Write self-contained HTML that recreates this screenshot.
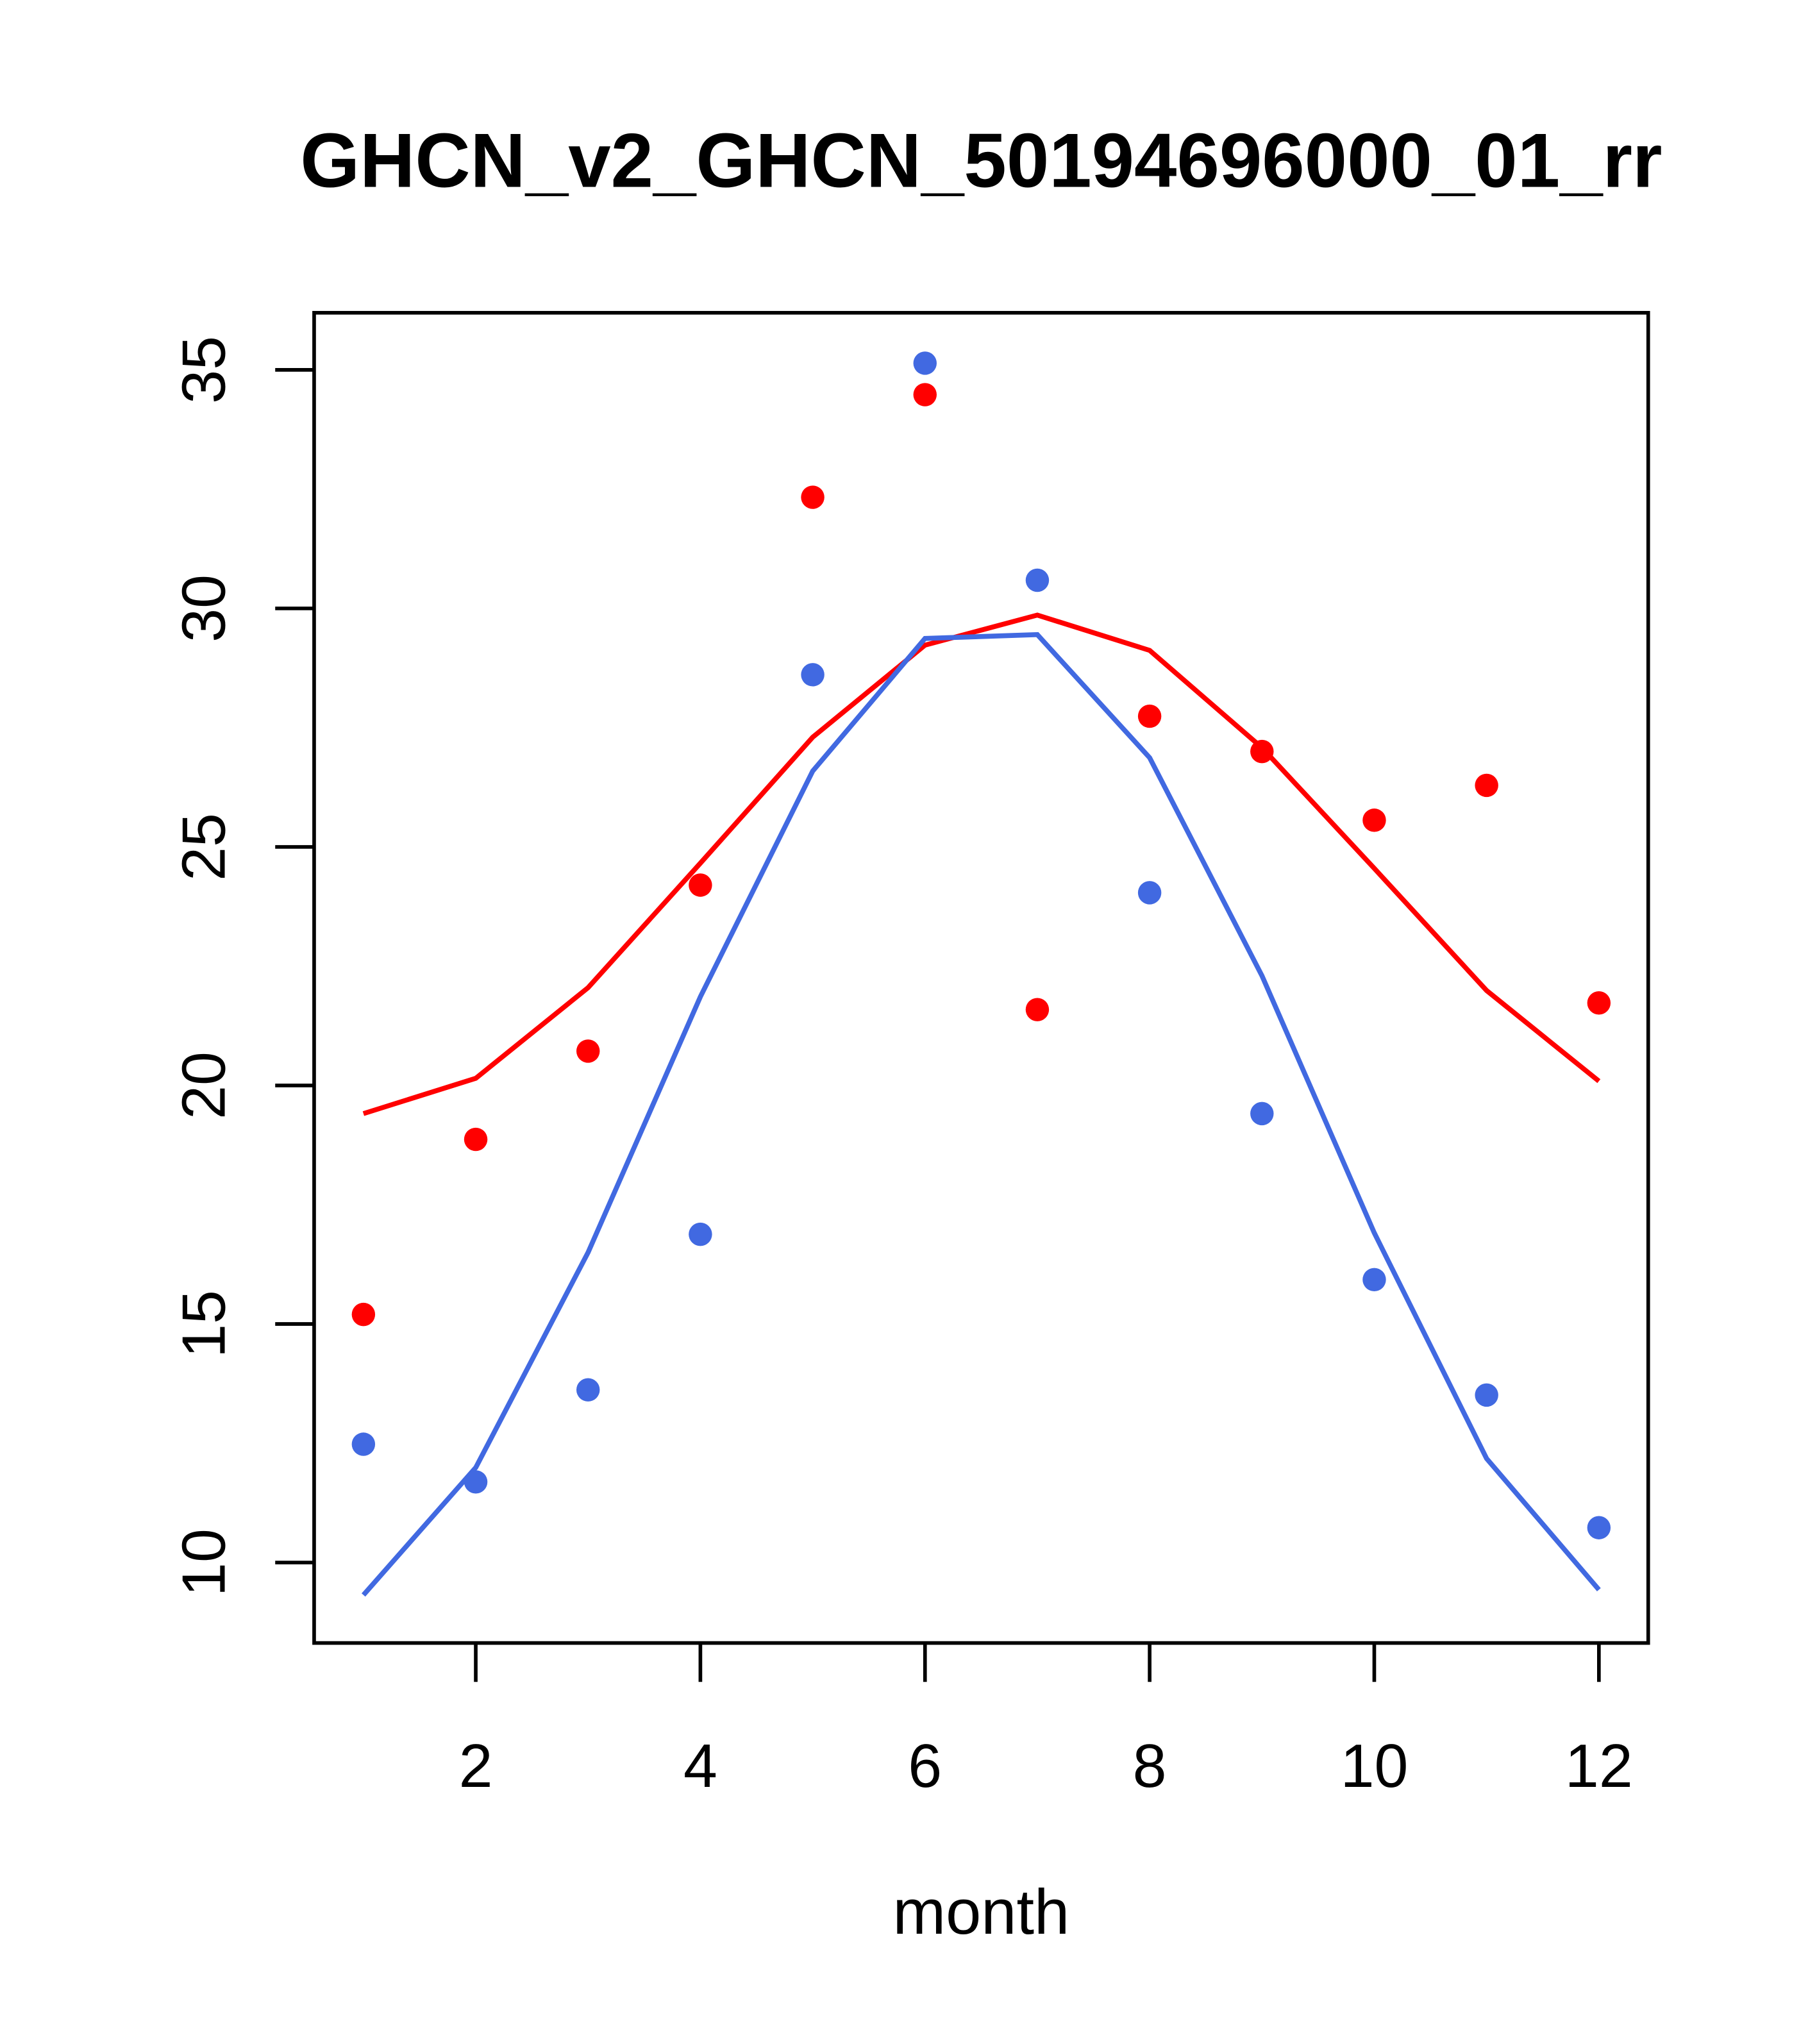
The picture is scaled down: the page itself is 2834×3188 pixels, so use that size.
<!DOCTYPE html>
<html><head><meta charset="utf-8"><style>
html,body{margin:0;padding:0;background:#fff;}
svg{display:block;}
</style></head><body>
<svg id="chart" width="2834" height="3188" viewBox="0 0 1400 1575" xmlns="http://www.w3.org/2000/svg" font-family="Liberation Sans, sans-serif">
<rect width="1400" height="1575" fill="#fff"/>
<text x="756" y="144" text-anchor="middle" font-size="59" font-weight="bold">GHCN_v2_GHCN_50194696000_01_rr</text>
<rect x="242" y="241" width="1028" height="1025" fill="none" stroke="#000" stroke-width="2.8"/>
<text x="756" y="1490" text-anchor="middle" font-size="49">month</text>
<g id="xaxis"></g>
<g id="yaxis"></g>
<g id="series"></g>
</svg>
<script>
const months = [1,2,3,4,5,6,7,8,9,10,11,12];
const redPoints = [15.2,18.87,20.72,24.2,32.33,34.48,21.59,27.74,27.0,25.56,26.29,21.73];
const bluePoints = [12.48,11.69,13.62,16.88,28.61,35.14,30.59,24.04,19.41,15.93,13.51,10.73];
const redLine = [19.41,20.15,22.05,24.66,27.3,29.23,29.86,29.12,27.08,24.55,21.99,20.09];
const blueLine = [9.32,11.99,16.5,21.86,26.59,29.37,29.45,26.87,22.3,16.91,12.18,9.43];
const xTicks = [2,4,6,8,10,12];
const yTicks = [10,15,20,25,30,35];

const NS = "http://www.w3.org/2000/svg";
function xs(m){ return 280 + (m-1)*(1232-280)/11; }
function ys(v){ return 1204 - (v-10)*(1204-285)/25; }
function mk(tag, attrs, parent){
  const e = document.createElementNS(NS, tag);
  for (const k in attrs) e.setAttribute(k, attrs[k]);
  parent.appendChild(e); return e;
}
const xa = document.getElementById('xaxis');
const ya = document.getElementById('yaxis');
const sg = document.getElementById('series');

xTicks.forEach(t=>{
  const l = mk('line',{x1:xs(t),x2:xs(t),y1:1266,y2:1296,stroke:'#000','stroke-width':2.8},xa);
  
  
  const tx = mk('text',{x:xs(t),y:1377,'text-anchor':'middle','font-size':47},xa);
  tx.textContent = t;
  
  
});
yTicks.forEach(t=>{
  const l = mk('line',{x1:212,x2:242,y1:ys(t),y2:ys(t),stroke:'#000','stroke-width':2.8},ya);
  
  
  const tx = mk('text',{x:0,y:0,'text-anchor':'middle','font-size':47,transform:`translate(173,${ys(t)}) rotate(-90)`},ya);
  tx.textContent = t;
  
  
});

function line(vals, color, name){
  const p = mk('polyline',{points:vals.map((v,i)=>xs(months[i])+','+ys(v)).join(' '),fill:'none',stroke:color,'stroke-width':3.8},sg);
  
  
}
function pts(vals, color, name){
  vals.forEach((v,i)=>{
    const c = mk('circle',{cx:xs(months[i]),cy:ys(v),r:9,fill:color},sg);
    
    
  });
}
line(redLine,'#ff0000','red-line');
line(blueLine,'#4169e1','blue-line');
pts(redPoints,'#ff0000','red-point');
pts(bluePoints,'#4169e1','blue-point');
</script>
</body></html>
